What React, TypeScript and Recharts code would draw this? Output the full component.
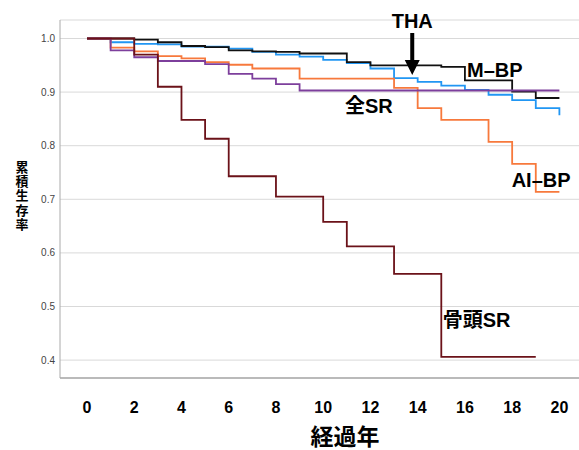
import React from 'react';
import { LineChart, Line, XAxis, YAxis, CartesianGrid, ReferenceDot, Label } from 'recharts';

const FONT = '"Liberation Sans", Arial, "Noto Sans CJK JP", sans-serif';

// years since surgery, value holds from that year to the next
const years = [0, 1, 2, 3, 4, 5, 6, 7, 8, 9, 10, 11, 12, 13, 14, 15, 16, 17, 18, 19, 20];
const mbp = [1.0, 1.0, 0.998, 0.993, 0.986, 0.984, 0.978, 0.976, 0.975, 0.972, 0.972, 0.956, 0.95, 0.95, 0.95, 0.947, 0.922, 0.922, 0.901, 0.889, 0.889];
const tha = [1.0, 0.993, 0.99, 0.989, 0.985, 0.985, 0.981, 0.975, 0.97, 0.966, 0.96, 0.954, 0.944, 0.926, 0.919, 0.912, 0.904, 0.895, 0.885, 0.87, 0.857];
const aibp = [1.0, 0.983, 0.976, 0.967, 0.963, 0.956, 0.951, 0.944, 0.944, 0.925, 0.925, 0.925, 0.925, 0.908, 0.87, 0.848, 0.848, 0.807, 0.766, 0.714, 0.714];
const allSR = [1.0, 0.978, 0.965, 0.958, 0.958, 0.952, 0.934, 0.925, 0.915, 0.903, 0.903, 0.903, 0.903, 0.903, 0.903, 0.903, 0.903, 0.903, 0.903, 0.903, 0.903];
const headSR = [1.0, 1.0, 0.97, 0.91, 0.848, 0.813, 0.743, 0.743, 0.705, 0.705, 0.658, 0.612, 0.612, 0.561, 0.561, 0.406, 0.406, 0.406, 0.406, 0.406, null];

const xTicks = [0, 2, 4, 6, 8, 10, 12, 14, 16, 18, 20];
const yTicks = [0.4, 0.5, 0.6, 0.7, 0.8, 0.9, 1.0];

// curve labels in data coordinates (left edge, baseline)
const notes = [
  { text: 'M–BP', t: 16.09, v: 0.928 },
  { text: '全SR', t: 10.92, v: 0.861 },
  { text: 'AI–BP', t: 17.98, v: 0.7235 },
  { text: '骨頭SR', t: 15.06, v: 0.4623 },
];
const thaNote = { text: 'THA', t: 13.77, v: 1.019, tipV: 0.932 };

const data = years.map((t, i) => ({
  t,
  mbp: mbp[i],
  tha: tha[i],
  aibp: aibp[i],
  allSR: allSR[i],
  headSR: headSR[i],
}));

const yTitle = (props: any) => {
  const vb = props.viewBox;
  const chars = '累積生存率'.split('');
  const x = vb.x + 22;
  const y0 = vb.y + vb.height / 2 - 27.5;
  return (
    <text x={x} y={y0} textAnchor="middle" fontSize={13} fontWeight="bold" fill="#000" fontFamily={FONT}>
      {chars.map((c, i) => (
        <tspan key={i} x={x} y={y0 + i * 14.4}>{c}</tspan>
      ))}
    </text>
  );
};

const xTitle = (props: any) => {
  const vb = props.viewBox;
  return (
    <text x={vb.x + vb.width / 2 + 25.5} y={vb.y + 67} textAnchor="middle" fontSize={23} fontWeight="bold" fill="#000" fontFamily={FONT}>
      経過年
    </text>
  );
};

const arrow = (p: any) => {
  const { cx, cy } = p;
  const d = `M${cx - 2} ${cy - 42} L${cx + 2} ${cy - 42} L${cx + 2} ${cy - 15} L${cx + 7.5} ${cy - 15} L${cx} ${cy} L${cx - 7.5} ${cy - 15} L${cx - 2} ${cy - 15} Z`;
  return <path d={d} fill="#000" />;
};

const noteShape = (text: string, anchor: string) => (p: any) => (
  <text x={p.cx} y={p.cy} textAnchor={anchor} fontSize={20} fontWeight="bold" fill="#000" fontFamily={FONT}>
    {text}
  </text>
);

export default function App() {
  return (
    <div style={{ position: 'absolute', left: 0, top: 0 }}>
      <LineChart width={579} height={450} data={data} margin={{ top: 20, right: 0, left: 0, bottom: 0 }}>
        <CartesianGrid vertical={false} stroke="#d9d9d9" />
        <XAxis
          dataKey="t"
          type="number"
          domain={[-1.143, 20.83]}
          allowDataOverflow
          ticks={xTicks}
          height={72}
          tickSize={0}
          tickMargin={24}
          tickLine={false}
          axisLine={{ stroke: '#888' }}
          tick={{ fontSize: 16, fontWeight: 'bold', fill: '#000', fontFamily: FONT }}
        >
          <Label content={xTitle} />
        </XAxis>
        <YAxis
          type="number"
          domain={[0.3666, 1.0345]}
          allowDataOverflow
          ticks={yTicks}
          width={60}
          tickSize={0}
          tickMargin={5}
          tickLine={false}
          axisLine={{ stroke: '#aaa' }}
          tickFormatter={(v: number) => v.toFixed(1)}
          tick={{ fontSize: 10, fill: '#444', fontFamily: FONT }}
        >
          <Label content={yTitle} />
        </YAxis>
        <Line type="stepAfter" dataKey="tha" stroke="#2196f3" strokeWidth={1.8} dot={false} activeDot={false} isAnimationActive={false} />
        <Line type="stepAfter" dataKey="mbp" stroke="#111" strokeWidth={1.8} dot={false} activeDot={false} isAnimationActive={false} />
        <Line type="stepAfter" dataKey="aibp" stroke="#f7793c" strokeWidth={1.8} dot={false} activeDot={false} isAnimationActive={false} />
        <Line type="stepAfter" dataKey="allSR" stroke="#7d3f9c" strokeWidth={1.8} dot={false} activeDot={false} isAnimationActive={false} />
        <Line type="stepAfter" dataKey="headSR" stroke="#6b1219" strokeWidth={1.8} dot={false} activeDot={false} isAnimationActive={false} />
        <ReferenceDot x={thaNote.t} y={thaNote.tipV} r={0} shape={arrow} />
        <ReferenceDot x={thaNote.t} y={thaNote.v} r={0} shape={noteShape(thaNote.text, 'middle')} />
        {notes.map((n) => (
          <ReferenceDot key={n.text} x={n.t} y={n.v} r={0} shape={noteShape(n.text, 'start')} />
        ))}
      </LineChart>
    </div>
  );
}
